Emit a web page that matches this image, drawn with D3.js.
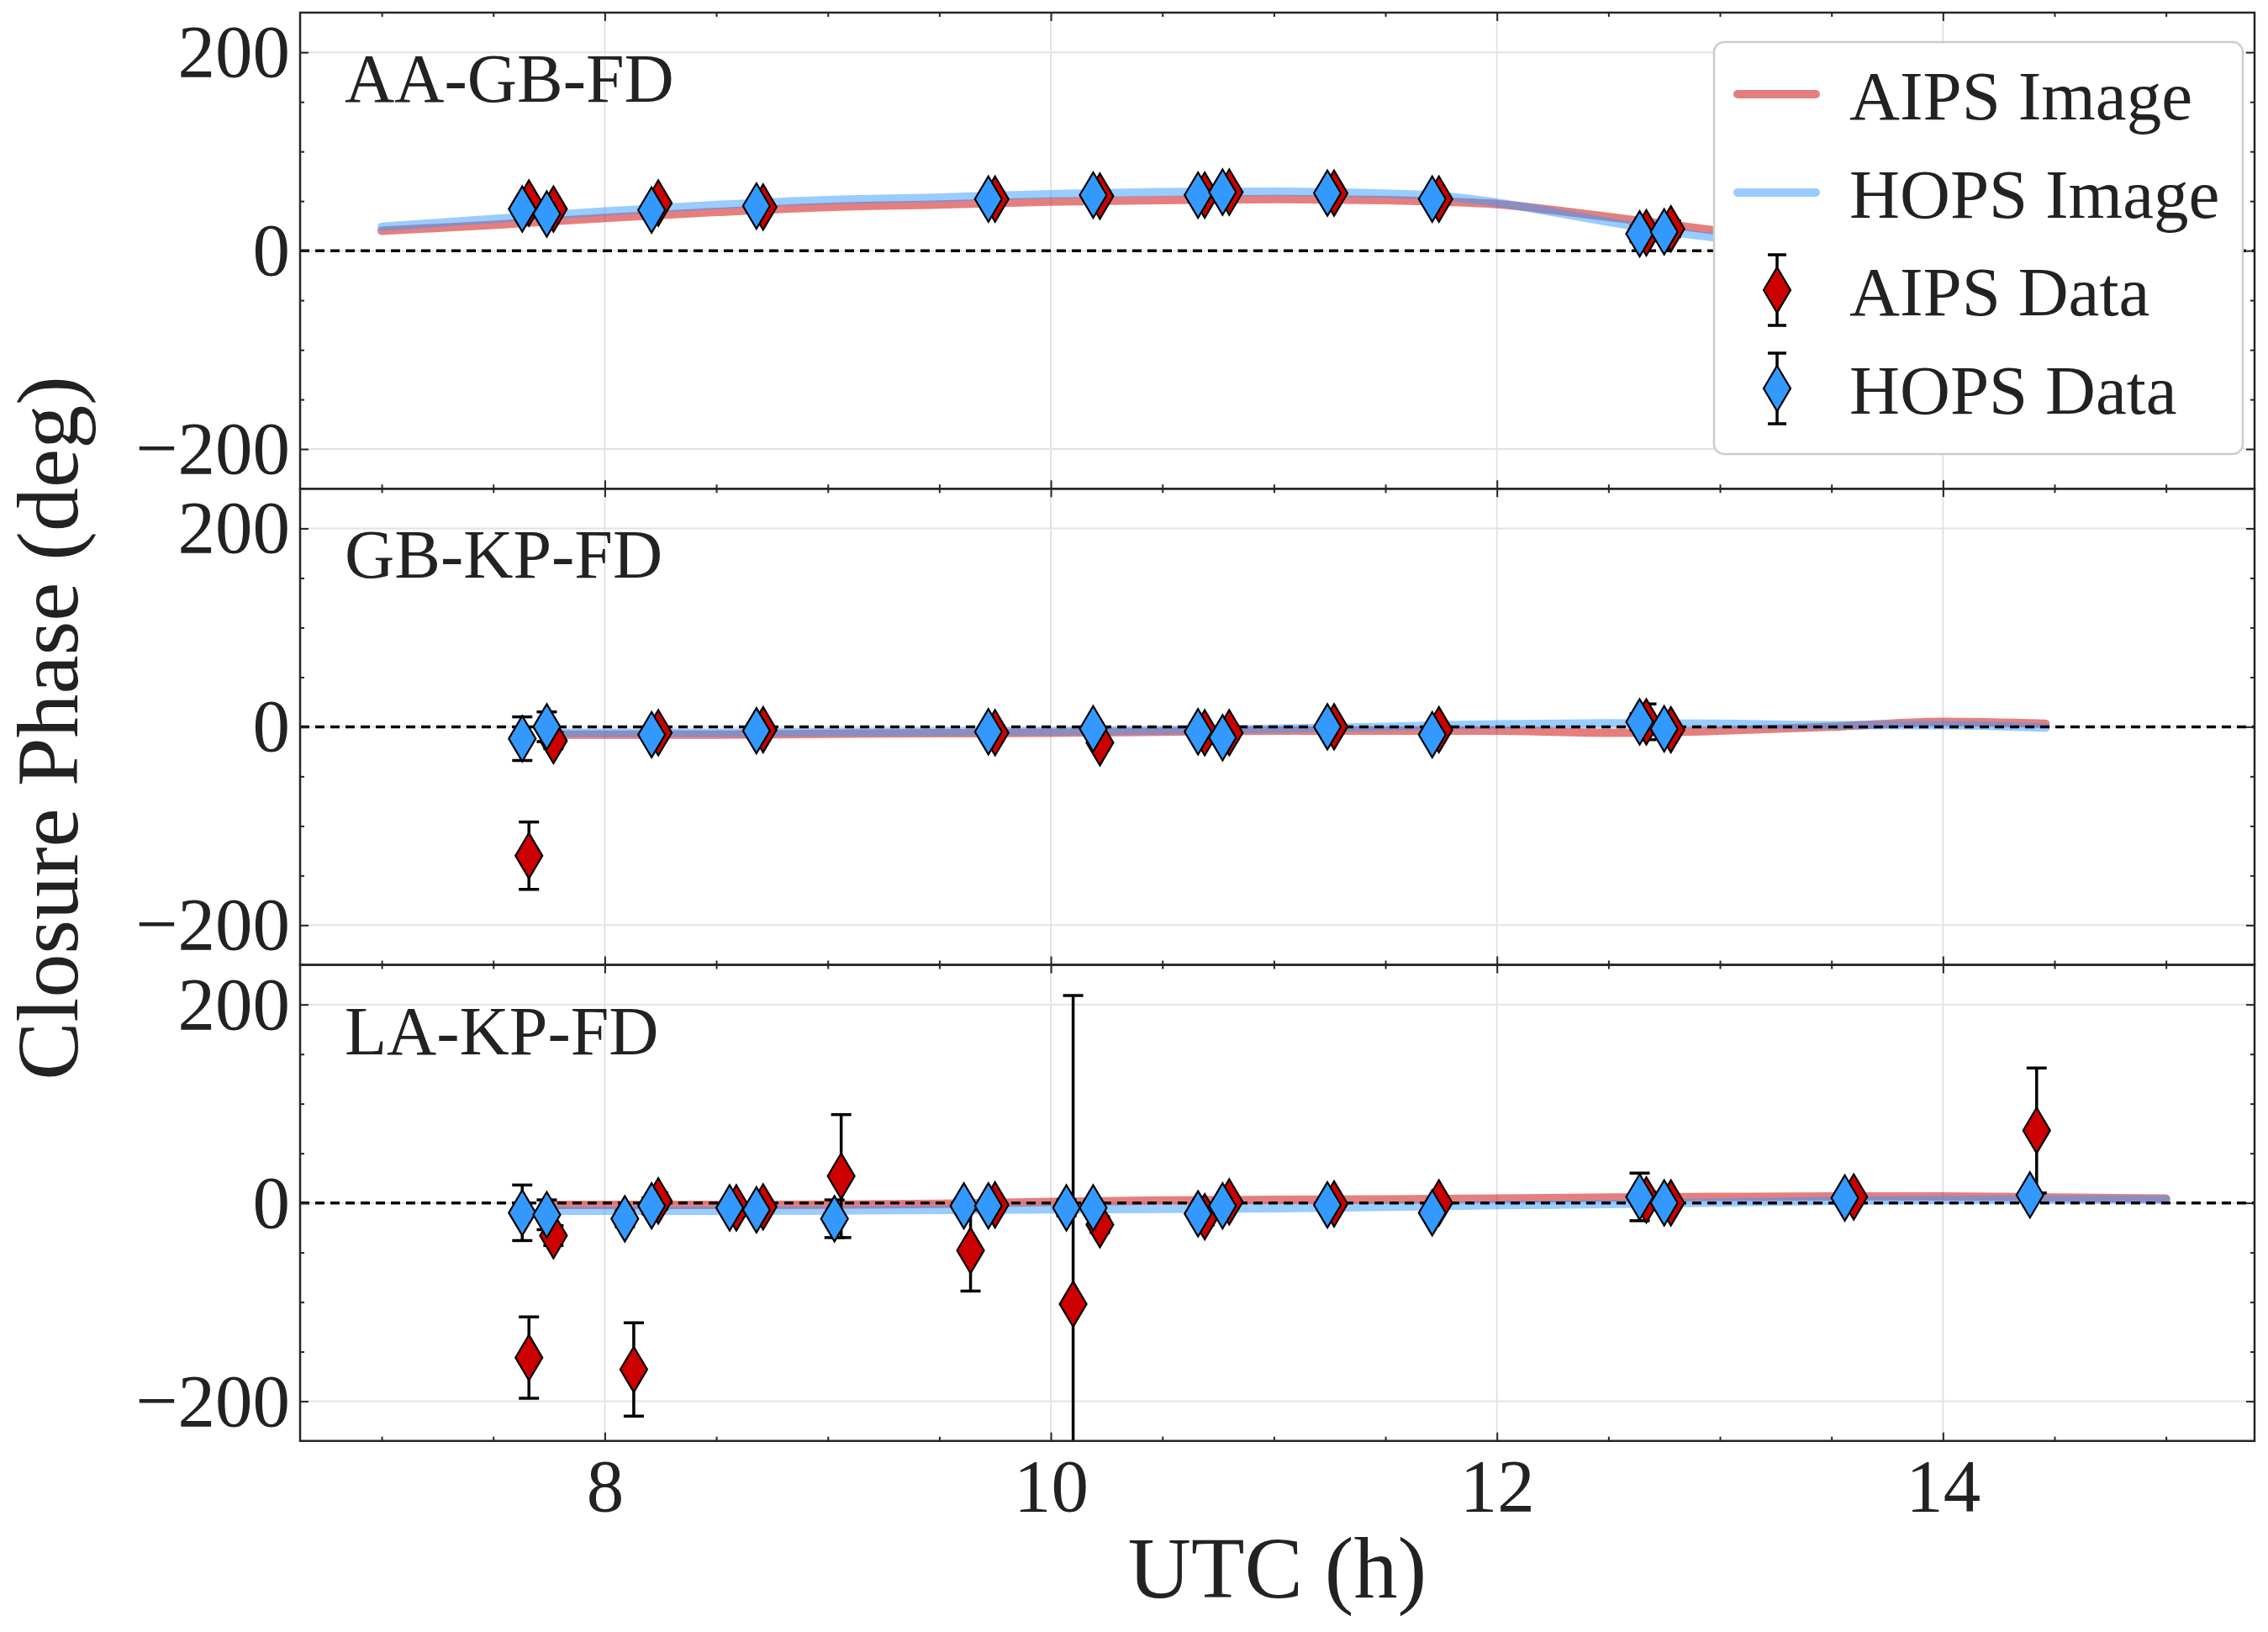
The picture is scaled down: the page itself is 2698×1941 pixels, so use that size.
<!DOCTYPE html>
<html>
<head>
<meta charset="utf-8">
<script src="https://cdn.jsdelivr.net/npm/d3@7"></script>
<style>
  body { margin: 0; background: #fff; }
  svg text { font-family: "Liberation Serif", "DejaVu Serif", serif; fill: #222; }
</style>
</head>
<body>
<svg id="chart" width="2698" height="1941"></svg>
<script>
// ----- data -----
const baselines = ["AA-GB-FD", "GB-KP-FD", "LA-KP-FD"];
const legendNames = ["AIPS Image", "HOPS Image", "AIPS Data", "HOPS Data"];
const xTicks = [8, 10, 12, 14];
const yTicks = [-200, 0, 200];

// model curves (image closure phases), one array per triangle
const modelTime = [
  [7.0, 7.5, 8.0, 8.5, 9.0, 9.5, 10.0, 10.5, 11.0, 11.5, 11.75, 12.0, 12.25, 12.5, 12.75, 13.0, 13.25],
  [7.77, 8.0, 8.5, 9.0, 9.5, 10.0, 10.5, 11.0, 11.5, 12.0, 12.5, 13.0, 13.5, 14.0, 14.46],
  [7.75, 8.0, 8.5, 9.0, 9.5, 10.0, 10.5, 11.0, 11.5, 12.0, 12.5, 13.0, 13.5, 14.0, 14.5, 15.0]
];
const aipsModel = [
  [20, 26, 33, 39, 44, 46.5, 49.5, 51, 52, 51, 49.5, 47, 41, 34, 27, 20, 16],
  [-8, -8, -8, -7, -6.5, -6, -5, -4, -4, -4, -6, -4, 0, 5, 3],
  [-2, -2, -2, -1.7, -1, 1, 2.5, 3, 3.5, 4.3, 5.5, 6, 6.4, 6.4, 5.5, 4.3]
];
const hopsModel = [
  [24, 32, 39.5, 46, 51, 53.5, 57, 59, 59.5, 57.5, 55, 48.5, 39, 29, 20, 13, 10],
  [-6, -6, -6, -5.5, -5, -4.5, -3.5, -2, 0, 2.5, 3.5, 3, 1.5, 1.5, -1],
  [-8, -8, -8, -7.7, -7, -6.5, -6, -5.5, -4, -2.3, -1.2, 0.5, 2, 3, 3.3, 3.3]
];

// measured closure phases
const aipsTime = [
  [7.66, 7.77, 8.24, 8.71, 9.75, 10.22, 10.69, 10.80, 11.27, 11.74, 12.67, 12.78],
  [7.66, 7.77, 8.24, 8.71, 9.75, 10.22, 10.69, 10.80, 11.27, 11.74, 12.67, 12.78],
  [7.66, 7.77, 8.13, 8.24, 8.59, 8.71, 9.06, 9.64, 9.75, 10.10, 10.22, 10.69, 10.80, 11.27, 11.74, 12.67, 12.78, 13.60, 14.42]
];
const aipsPhase = [
  [48, 42, 48, 44, 52, 55, 56, 59, 58, 52, 18, 22],
  [-130, -14, -6, -3, -6, -16, -6, -6, 0, -3, 5, -3],
  [-156, -33, -168, 2, -5, -4, 27, -48, -2, -102, -22, -14, 1, -1, 0, 3, 0, 6, 73]
];
const aipsErr = [
  [6, 6, 6, 6, 6, 6, 6, 6, 6, 6, 8, 8],
  [34, 8, 6, 6, 6, 6, 6, 6, 6, 6, 18, 6],
  [41, 10, 47, 8, 6, 6, 62, 41, 6, 311, 8, 8, 6, 6, 6, 8, 6, 6, 63]
];
const hopsTime = [
  [7.63, 7.74, 8.21, 8.68, 9.72, 10.19, 10.66, 10.77, 11.24, 11.71, 12.64, 12.75],
  [7.63, 7.74, 8.21, 8.68, 9.72, 10.19, 10.66, 10.77, 11.24, 11.71, 12.64, 12.75],
  [7.63, 7.74, 8.09, 8.21, 8.56, 8.68, 9.03, 9.61, 9.72, 10.07, 10.19, 10.66, 10.77, 11.24, 11.71, 12.64, 12.75, 13.56, 14.39]
];
const hopsPhase = [
  [42, 37, 41, 45, 52, 56, 56, 59, 58, 52, 17, 19],
  [-12, 0, -8, -4, -5, -2, -5, -11, 0, -8, 5, -2],
  [-10, -12, -16, -3, -5, -7, -16, -3, -3, -5, -5, -11, -3, -2, -10, 6, 0, 5, 8]
];
const hopsErr = [
  [6, 6, 6, 6, 6, 6, 6, 6, 6, 6, 8, 8],
  [22, 15, 6, 6, 6, 6, 6, 6, 6, 6, 8, 6],
  [28, 15, 8, 8, 6, 6, 19, 6, 6, 8, 6, 6, 6, 6, 6, 24, 6, 6, 6]
];

// ----- styles -----
const aipsColor = "#cc0000";
const hopsColor = "#3399ff";
const ink = "#262626";

const svg = d3.select("svg#chart");
svg.append("rect").attr("width", 2698).attr("height", 1941).attr("fill", "#fff");

const x = d3.scaleLinear().domain([6.634, 15.397]).range([357, 2682]);
const panelH = 566.25;
const panelTop = [15, 15 + panelH, 15 + 2 * panelH];

const xMinor = d3.range(7, 15.01, 0.5).filter(d => !xTicks.includes(d));
const yMinor = d3.range(-200, 201, 50).filter(d => !yTicks.includes(d));

// thin diamond marker, same shape for every point
const diamond = "M0,-27L16,0L0,27L-16,0Z";

function styleAxis(g) {
  g.select(".domain").remove();
  g.selectAll(".tick line").attr("stroke", ink).attr("stroke-width", 2);
  g.selectAll("text").attr("font-size", 89);
}

baselines.forEach((name, i) => {
  const top = panelTop[i];
  const bottom = top + panelH;
  const y = d3.scaleLinear().domain([-240, 240]).range([bottom, top]);

  const panel = svg.append("g").attr("class", "panel");

  svg.append("clipPath").attr("id", "clip" + i)
     .append("rect")
     .attr("x", x.range()[0]).attr("y", top)
     .attr("width", x.range()[1] - x.range()[0]).attr("height", panelH);

  // grid
  panel.append("g").selectAll("line")
       .data(xTicks).join("line")
       .attr("x1", d => x(d)).attr("x2", d => x(d))
       .attr("y1", top).attr("y2", bottom)
       .attr("stroke", "#e3e3e3").attr("stroke-width", 2);
  panel.append("g").selectAll("line")
       .data(yTicks).join("line")
       .attr("x1", x.range()[0]).attr("x2", x.range()[1])
       .attr("y1", d => y(d)).attr("y2", d => y(d))
       .attr("stroke", "#e3e3e3").attr("stroke-width", 2);

  const plot = panel.append("g").attr("clip-path", "url(#clip" + i + ")");

  // model curves
  const line = d3.line().x(d => x(d[0])).y(d => y(d[1])).curve(d3.curveMonotoneX);
  plot.append("path")
      .datum(d3.zip(modelTime[i], aipsModel[i]))
      .attr("d", line)
      .attr("fill", "none").attr("stroke", aipsColor).attr("stroke-opacity", 0.5)
      .attr("stroke-width", 10).attr("stroke-linecap", "round");
  plot.append("path")
      .datum(d3.zip(modelTime[i], hopsModel[i]))
      .attr("d", line)
      .attr("fill", "none").attr("stroke", hopsColor).attr("stroke-opacity", 0.5)
      .attr("stroke-width", 10).attr("stroke-linecap", "round");

  // zero reference
  plot.append("line")
      .attr("x1", x.range()[0]).attr("x2", x.range()[1])
      .attr("y1", y(0)).attr("y2", y(0))
      .attr("stroke", "#000").attr("stroke-width", 3.5)
      .attr("stroke-dasharray", "11,7");

  const aips = d3.zip(aipsTime[i], aipsPhase[i], aipsErr[i]);
  const hops = d3.zip(hopsTime[i], hopsPhase[i], hopsErr[i]);

  // error bars (both series under the markers)
  [aips, hops].forEach(pts => {
    const eb = plot.append("g").selectAll("g").data(pts).join("g");
    eb.append("line")
      .attr("x1", d => x(d[0])).attr("x2", d => x(d[0]))
      .attr("y1", d => y(d[1] - d[2])).attr("y2", d => y(d[1] + d[2]))
      .attr("stroke", "#000").attr("stroke-width", 3.5);
    eb.append("line")
      .attr("x1", d => x(d[0]) - 12).attr("x2", d => x(d[0]) + 12)
      .attr("y1", d => y(d[1] - d[2])).attr("y2", d => y(d[1] - d[2]))
      .attr("stroke", "#000").attr("stroke-width", 3.5);
    eb.append("line")
      .attr("x1", d => x(d[0]) - 12).attr("x2", d => x(d[0]) + 12)
      .attr("y1", d => y(d[1] + d[2])).attr("y2", d => y(d[1] + d[2]))
      .attr("stroke", "#000").attr("stroke-width", 3.5);
  });

  // markers
  [[aips, aipsColor], [hops, hopsColor]].forEach(([pts, color]) => {
    plot.append("g").selectAll("path")
        .data(pts).join("path")
        .attr("d", diamond)
        .attr("transform", d => `translate(${x(d[0])},${y(d[1])})`)
        .attr("fill", color).attr("stroke", "#000").attr("stroke-width", 2.2);
  });

  // ticks, all four sides pointing in
  const isLast = i === baselines.length - 1;
  panel.append("g").attr("transform", `translate(0,${bottom})`)
       .call(d3.axisBottom(x).tickValues(xTicks).tickSize(-10).tickPadding(20)
               .tickFormat(isLast ? d3.format("d") : ""))
       .call(styleAxis);
  panel.append("g").attr("transform", `translate(0,${bottom})`)
       .call(d3.axisBottom(x).tickValues(xMinor).tickSize(-5).tickFormat(""))
       .call(styleAxis);
  panel.append("g").attr("transform", `translate(0,${top})`)
       .call(d3.axisTop(x).tickValues(xTicks).tickSize(-10).tickFormat(""))
       .call(styleAxis);
  panel.append("g").attr("transform", `translate(0,${top})`)
       .call(d3.axisTop(x).tickValues(xMinor).tickSize(-5).tickFormat(""))
       .call(styleAxis);
  panel.append("g").attr("transform", `translate(${x.range()[0]},0)`)
       .call(d3.axisLeft(y).tickValues(yTicks).tickSize(-10).tickPadding(12))
       .call(styleAxis);
  panel.append("g").attr("transform", `translate(${x.range()[0]},0)`)
       .call(d3.axisLeft(y).tickValues(yMinor).tickSize(-5).tickFormat(""))
       .call(styleAxis);
  panel.append("g").attr("transform", `translate(${x.range()[1]},0)`)
       .call(d3.axisRight(y).tickValues(yTicks).tickSize(-10).tickFormat(""))
       .call(styleAxis);
  panel.append("g").attr("transform", `translate(${x.range()[1]},0)`)
       .call(d3.axisRight(y).tickValues(yMinor).tickSize(-5).tickFormat(""))
       .call(styleAxis);

  // frame
  panel.append("rect")
       .attr("x", x.range()[0]).attr("y", top)
       .attr("width", x.range()[1] - x.range()[0]).attr("height", panelH)
       .attr("fill", "none").attr("stroke", ink).attr("stroke-width", 2.5);

  panel.append("text")
       .attr("x", 410).attr("y", top + 106)
       .attr("font-size", 82)
       .text(name);
});

// axis titles
svg.append("text")
   .attr("transform", "translate(92,866) rotate(-90)")
   .attr("text-anchor", "middle").attr("font-size", 104)
   .text("Closure Phase (deg)");
svg.append("text")
   .attr("x", (x.range()[0] + x.range()[1]) / 2).attr("y", 1900)
   .attr("text-anchor", "middle").attr("font-size", 104)
   .text("UTC (h)");

// legend
const legend = svg.append("g").attr("transform", "translate(2039,50)");
legend.append("rect")
      .attr("width", 629).attr("height", 490).attr("rx", 12)
      .attr("fill", "#fff").attr("stroke", "#cccccc").attr("stroke-width", 2.5);
const rowY = [62, 179, 295, 412];
const swatchColor = [aipsColor, hopsColor, aipsColor, hopsColor];
legendNames.forEach((label, k) => {
  const row = legend.append("g").attr("transform", `translate(0,${rowY[k]})`);
  if (k < 2) {
    row.append("line")
       .attr("x1", 28).attr("x2", 121)
       .attr("stroke", swatchColor[k]).attr("stroke-opacity", 0.5)
       .attr("stroke-width", 10).attr("stroke-linecap", "round");
  } else {
    row.append("line").attr("x1", 75).attr("x2", 75).attr("y1", -42).attr("y2", 42)
       .attr("stroke", "#000").attr("stroke-width", 3.5);
    row.append("line").attr("x1", 64).attr("x2", 86).attr("y1", -42).attr("y2", -42)
       .attr("stroke", "#000").attr("stroke-width", 3.5);
    row.append("line").attr("x1", 64).attr("x2", 86).attr("y1", 42).attr("y2", 42)
       .attr("stroke", "#000").attr("stroke-width", 3.5);
    row.append("path").attr("d", diamond).attr("transform", "translate(75,0)")
       .attr("fill", swatchColor[k]).attr("stroke", "#000").attr("stroke-width", 2.2);
  }
  row.append("text").attr("x", 161).attr("y", 30).attr("font-size", 83).text(label);
});
</script>
</body>
</html>
